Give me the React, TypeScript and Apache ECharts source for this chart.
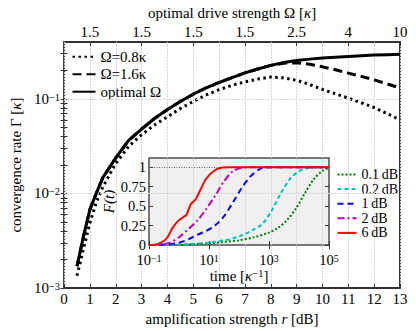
import React, { useEffect, useRef } from 'react';
import * as echarts from 'echarts';

const FONT = 'Liberation Serif';

// ---------- main plot data ----------
const ampDb = [0.5, 0.75, 1, 1.25, 1.5, 2, 2.5, 3, 3.5, 4, 4.5, 5, 5.5, 6, 6.5, 7, 7.5, 8, 8.5, 9, 9.5, 10, 10.5, 11, 11.5, 12, 12.5, 13];
const rateOmega08 = [0.00135, 0.0026, 0.0049, 0.0081, 0.0117, 0.0208, 0.0315, 0.0417, 0.053, 0.0646, 0.079, 0.094, 0.11, 0.125, 0.139, 0.151, 0.162, 0.17, 0.167, 0.157, 0.142, 0.126, 0.113, 0.102, 0.091, 0.081, 0.07, 0.06];
const rateOmega16 = [0.0017, 0.0035, 0.0068, 0.0101, 0.0147, 0.0238, 0.0365, 0.048, 0.062, 0.077, 0.094, 0.112, 0.131, 0.149, 0.168, 0.188, 0.207, 0.226, 0.238, 0.241, 0.232, 0.218, 0.203, 0.187, 0.173, 0.159, 0.144, 0.13];
const rateOptimal = [0.0017, 0.0035, 0.0068, 0.0101, 0.0147, 0.0238, 0.0365, 0.048, 0.062, 0.077, 0.094, 0.112, 0.131, 0.149, 0.168, 0.188, 0.207, 0.226, 0.242, 0.254, 0.263, 0.27, 0.276, 0.281, 0.286, 0.29, 0.293, 0.296];

const rateMajorTicks = [0.001, 0.01, 0.1];
const rateMinorTicks = [0.002, 0.003, 0.004, 0.005, 0.006, 0.007, 0.008, 0.009, 0.02, 0.03, 0.04, 0.05, 0.06, 0.07, 0.08, 0.09, 0.2, 0.3];
const topTickPositions = [1, 3, 5, 7, 9, 11, 13];
const topTickLabels = ['1.5', '1.5', '1.5', '1.5', '2.5', '4', '10'];

// ---------- inset data ----------
const time01 = [0.1, 1, 10, 31.6, 100, 316, 1000, 2000, 3981, 7943, 15849, 31623, 63096, 100000];
const fid01 = [0, 0.003, 0.02, 0.04, 0.06, 0.1, 0.16, 0.22, 0.32, 0.47, 0.67, 0.85, 0.96, 0.99];
const time02 = [0.1, 1, 10, 31.6, 100, 316, 631, 1259, 2512, 5012, 10000, 19953, 39811, 100000];
const fid02 = [0, 0.005, 0.03, 0.06, 0.11, 0.2, 0.28, 0.45, 0.67, 0.85, 0.95, 0.99, 1, 1];
const time1 = [0.1, 0.316, 1, 2, 4, 7.94, 15.8, 31.6, 63.1, 126, 251, 501, 1000, 100000];
const fid1 = [0, 0.005, 0.03, 0.07, 0.13, 0.18, 0.25, 0.37, 0.55, 0.74, 0.89, 0.98, 1, 1];
const time2 = [0.1, 0.25, 0.5, 1, 2, 4, 7.94, 15.8, 31.6, 63.1, 126, 251, 100000];
const fid2 = [0, 0.005, 0.03, 0.1, 0.2, 0.31, 0.46, 0.63, 0.82, 0.95, 0.995, 1, 1];
const time6 = [0.1, 0.158, 0.251, 0.398, 0.631, 1, 1.41, 1.78, 2.51, 3.55, 5.01, 7.94, 14.1, 25.1, 50.1, 100000];
const fid6 = [0, 0.004, 0.03, 0.09, 0.23, 0.32, 0.36, 0.39, 0.53, 0.585, 0.7, 0.85, 0.95, 0.995, 1, 1];

const insetTimeTicks = [0.1, 10, 1000, 100000];
const insetFidTicks = [0, 0.25, 0.5, 0.75, 1];
const insetFidLabels = ['0', '0.25', '0.5', '0.75', '1'];

const mainNames = ['Ω=0.8κ', 'Ω=1.6κ', 'optimal Ω'];
const insetNames = ['0.1\u2009dB', '0.2\u2009dB', '1\u2009dB', '2\u2009dB', '6\u2009dB'];

const pow10Label = (v: number) => {
  const e = Math.round(Math.log10(v));
  return `{b|10}{s|${e < 0 ? '\u2212' + -e : e}}`;
};

const zip = (xs: number[], ys: number[]) => xs.map((x, i) => [x, ys[i]]);

export default function App() {
  const ref = useRef<HTMLDivElement>(null);

  useEffect(() => {
    if (!ref.current) return;
    const chart = echarts.init(ref.current, undefined, { renderer: 'svg' });
    const txt = { fontFamily: FONT, color: '#000' };
    const richMain = {
      b: { ...txt, fontSize: 15, lineHeight: 14 },
      s: { ...txt, fontSize: 10.5, lineHeight: 9, verticalAlign: 'top' as const },
    };
    const richInset = {
      b: { ...txt, fontSize: 14.5, lineHeight: 13 },
      s: { ...txt, fontSize: 10, lineHeight: 9, verticalAlign: 'top' as const },
    };
    const nameRich = {
      n: { ...txt, fontSize: 15 },
      i: { ...txt, fontSize: 15, fontStyle: 'italic' as const },
      s: { ...txt, fontSize: 10.5, verticalAlign: 'top' as const, lineHeight: 9 },
    };
    const tickStyle = { color: '#333', width: 1 };
    const hiddenSymbol = { color: 'transparent', borderWidth: 0, opacity: 0 };

    const mainLine = (name: string, ys: number[], type: any, width: number, z: number, extra: any = {}) => ({
      type: 'line',
      name,
      xAxisIndex: 0,
      yAxisIndex: 0,
      data: zip(ampDb, ys),
      symbol: 'none',
      showSymbol: false,
      z,
      lineStyle: { color: '#000', width, type, cap: 'butt' },
      itemStyle: { color: '#000' },
      ...extra,
    });
    const insetLine = (name: string, xs: number[], ys: number[], color: string, type: any, z: number, extra: any = {}) => ({
      type: 'line',
      name,
      xAxisIndex: 2,
      yAxisIndex: 2,
      data: zip(xs, ys),
      symbol: 'none',
      showSymbol: false,
      smooth: 0.3,
      z,
      lineStyle: { color, width: 2, type },
      itemStyle: { color },
      ...extra,
    });

    chart.setOption({
      animation: false,
      textStyle: { fontFamily: FONT },
      grid: [
        { left: 59, top: 39, width: 341, height: 251, show: true, borderColor: '#333', borderWidth: 2, backgroundColor: 'transparent', containLabel: false },
        { left: 149, top: 158, width: 180, height: 87, show: true, borderColor: '#4d4d4d', borderWidth: 1.5, backgroundColor: '#f0f0f0', containLabel: false },
      ],
      xAxis: [
        {
          type: 'value', gridIndex: 0, min: 0, max: 13, interval: 1, position: 'bottom',
          axisLine: { show: false },
          axisTick: { show: true, inside: true, length: 4, lineStyle: tickStyle },
          axisLabel: { ...txt, fontSize: 15, margin: 3 },
          splitLine: { show: true, lineStyle: { color: '#d6d6d6', width: 1, type: [2, 1] } },
          name: '{n|amplification strength }{i|r}{n| [dB]}',
          nameLocation: 'middle', nameGap: 18,
          nameTextStyle: { ...txt, rich: nameRich },
        },
        {
          type: 'value', gridIndex: 0, min: 0, max: 13, position: 'top',
          axisLine: { show: false },
          axisTick: { show: true, inside: true, length: 4, lineStyle: tickStyle, customValues: topTickPositions },
          axisLabel: {
            ...txt, fontSize: 15, margin: 2, customValues: topTickPositions,
            formatter: (v: number) => {
              const i = topTickPositions.indexOf(Math.round(v));
              return i >= 0 ? topTickLabels[i] : '';
            },
          },
          splitLine: { show: false },
          name: '{n|optimal drive strength Ω [}{i|κ}{n|]}',
          nameLocation: 'middle', nameGap: 17,
          nameTextStyle: { ...txt, rich: nameRich },
        },
        {
          type: 'log', gridIndex: 1, logBase: 10, min: 0.1, max: 100000, position: 'bottom', z: 4,
          axisLine: { show: false },
          axisTick: { show: true, inside: true, length: 4, lineStyle: tickStyle, customValues: insetTimeTicks },
          axisLabel: { ...txt, customValues: insetTimeTicks, formatter: pow10Label, margin: 8.5, rich: richInset },
          splitLine: { show: false },
          name: '{n|time [}{i|κ}{s|\u22121}{n|]}',
          nameLocation: 'middle', nameGap: 22,
          nameTextStyle: { ...txt, rich: nameRich },
        },
        {
          type: 'log', gridIndex: 1, logBase: 10, min: 0.1, max: 100000, position: 'top', z: 4,
          axisLine: { show: false },
          axisTick: { show: true, inside: true, length: 4, lineStyle: tickStyle, customValues: insetTimeTicks },
          axisLabel: { show: false },
          splitLine: { show: false },
        },
      ],
      yAxis: [
        {
          type: 'log', gridIndex: 0, logBase: 10, min: 0.001, max: 0.4, position: 'left',
          axisLine: { show: false },
          axisTick: { show: true, inside: true, length: 3.5, lineStyle: tickStyle, customValues: [...rateMajorTicks, ...rateMinorTicks] },
          axisLabel: { ...txt, customValues: rateMajorTicks, formatter: pow10Label, margin: 4, rich: richMain },
          splitLine: { show: false },
          name: '{n|convergence rate Γ [}{i|κ}{n|]}',
          nameLocation: 'middle', nameGap: 37, nameRotate: 90,
          nameTextStyle: { ...txt, rich: nameRich },
        },
        {
          type: 'log', gridIndex: 0, logBase: 10, min: 0.001, max: 0.4, position: 'right',
          axisLine: { show: false },
          axisTick: { show: true, inside: true, length: 3.5, lineStyle: tickStyle, customValues: [...rateMajorTicks, ...rateMinorTicks] },
          axisLabel: { show: false },
          splitLine: { show: false },
        },
        {
          type: 'value', gridIndex: 1, min: 0, max: 1.12, position: 'left', z: 4,
          axisLine: { show: false },
          axisTick: { show: true, inside: true, length: 4, lineStyle: tickStyle, customValues: insetFidTicks },
          axisLabel: {
            ...txt, fontSize: 14.5, lineHeight: 10, margin: 3, customValues: insetFidTicks,
            formatter: (v: number) => {
              const i = insetFidTicks.findIndex((t) => Math.abs(t - v) < 1e-6);
              return i >= 0 ? insetFidLabels[i] : '';
            },
          },
          splitLine: { show: false },
          name: 'F(t)',
          nameLocation: 'middle', nameGap: 32, nameRotate: 90,
          nameTextStyle: { ...txt, fontSize: 15, fontStyle: 'italic' },
        },
        {
          type: 'value', gridIndex: 1, min: 0, max: 1.12, position: 'right', z: 4,
          axisLine: { show: false },
          axisTick: { show: true, inside: true, length: 4, lineStyle: tickStyle, customValues: insetFidTicks },
          axisLabel: { show: false },
          splitLine: { show: false },
        },
      ],
      legend: [
        {
          data: mainNames, orient: 'vertical', left: 71.5, top: 48.7, padding: 0,
          itemWidth: 23, itemHeight: 14, itemGap: 1.5, selectedMode: false,
          itemStyle: hiddenSymbol,
          textStyle: { ...txt, fontSize: 15, lineHeight: 16 },
        },
        {
          data: insetNames, orient: 'vertical', left: 336.5, top: 167.5, padding: 0,
          itemWidth: 19, itemHeight: 13, itemGap: 0.6, selectedMode: false,
          itemStyle: hiddenSymbol,
          textStyle: { ...txt, fontSize: 14, lineHeight: 13 },
        },
      ],
      series: [
        mainLine(mainNames[0], rateOmega08, [2.5, 3.5], 3, 3),
        mainLine(mainNames[1], rateOmega16, [9, 5], 3, 4),
        mainLine(mainNames[2], rateOptimal, 'solid', 3, 5, {
          markLine: {
            silent: true, symbol: 'none', label: { show: false },
            lineStyle: { color: '#d6d6d6', width: 1, type: [2, 1] },
            data: [{ yAxis: 0.1 }, { yAxis: 0.01 }],
          },
        }),
        insetLine(insetNames[0], time01, fid01, '#008000', [2, 2], 6, {
          markLine: {
            silent: true, symbol: 'none', label: { show: false },
            lineStyle: { color: '#666', width: 1, type: [1, 1.5] },
            data: [{ yAxis: 1 }],
          },
        }),
        insetLine(insetNames[1], time02, fid02, '#00bfbf', [4, 3], 7),
        insetLine(insetNames[2], time1, fid1, '#0000ff', [6, 4], 8),
        insetLine(insetNames[3], time2, fid2, '#bf00bf', [7, 3, 2, 3], 9),
        insetLine(insetNames[4], time6, fid6, '#ff0000', 'solid', 10),
      ],
    });
    return () => chart.dispose();
  }, []);

  return <div ref={ref} style={{ position: 'fixed', left: 0, top: 0, width: 416, height: 331, background: '#fff' }} />;
}
